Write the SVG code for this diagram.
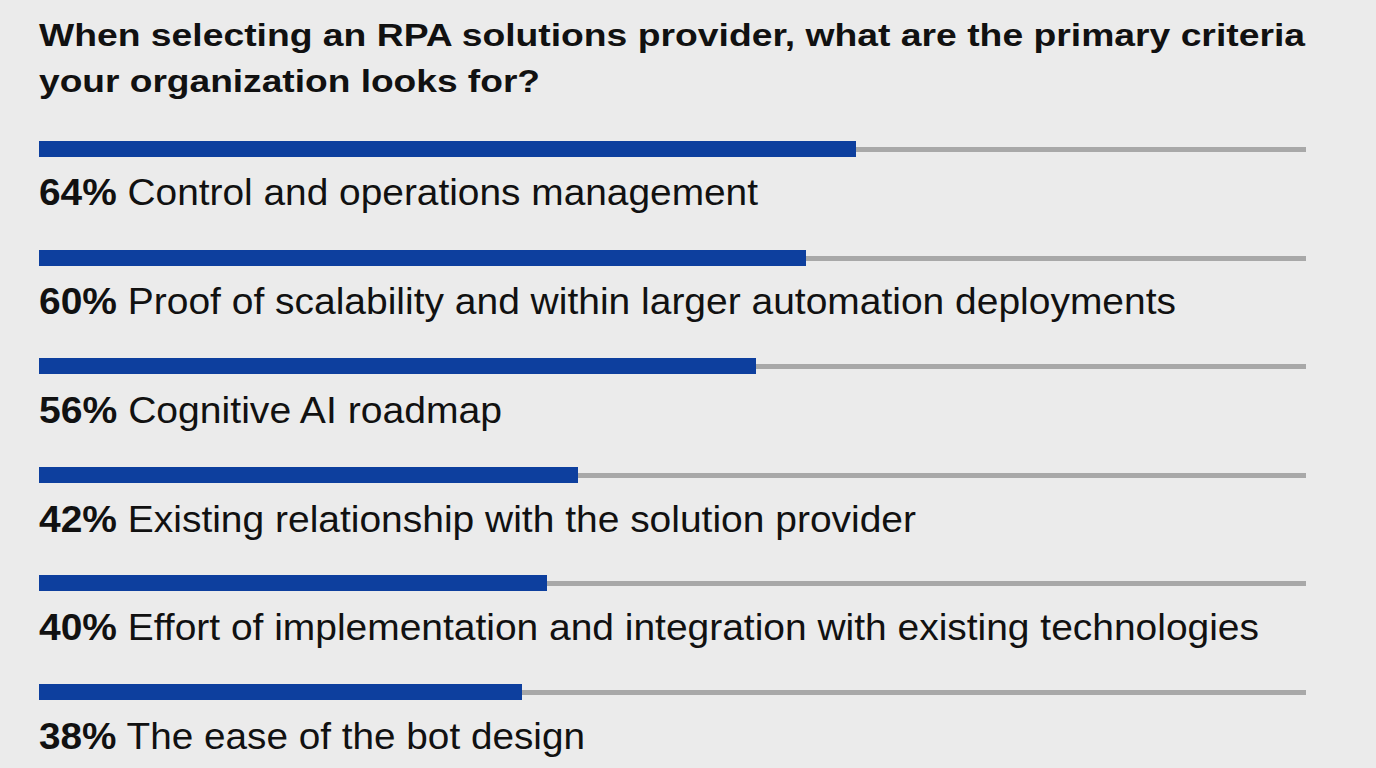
<svg xmlns="http://www.w3.org/2000/svg" width="1376" height="768" viewBox="0 0 1376 768">
<style>
.t{font-family:"Liberation Sans",Arial,sans-serif;font-weight:bold;font-size:32px;fill:#111}
.l{font-family:"Liberation Sans",Arial,sans-serif;font-size:37px;fill:#111}
.l tspan{font-weight:bold}
.g{fill:#a8a8a8}
.b{fill:#0d3f9e}
</style>
<rect width="1376" height="768" fill="#ebebeb"/>
<text class="t" x="39" y="46" textLength="1266" lengthAdjust="spacingAndGlyphs">When selecting an RPA solutions provider, what are the primary criteria</text>
<text class="t" x="39" y="92" textLength="501" lengthAdjust="spacingAndGlyphs">your organization looks for?</text>
<g id="r1"><rect class="g" x="39" y="147" width="1267" height="5"/><rect class="b" x="39" y="141" width="817" height="16"/><text class="l" x="39" y="205" textLength="719" lengthAdjust="spacingAndGlyphs"><tspan>64%</tspan> Control and operations management</text></g>
<g id="r2"><rect class="g" x="39" y="256" width="1267" height="5"/><rect class="b" x="39" y="250" width="767" height="16"/><text class="l" x="39" y="314" textLength="1137" lengthAdjust="spacingAndGlyphs"><tspan>60%</tspan> Proof of scalability and within larger automation deployments</text></g>
<g id="r3"><rect class="g" x="39" y="364" width="1267" height="5"/><rect class="b" x="39" y="358" width="717" height="16"/><text class="l" x="39" y="423" textLength="463" lengthAdjust="spacingAndGlyphs"><tspan>56%</tspan> Cognitive AI roadmap</text></g>
<g id="r4"><rect class="g" x="39" y="473" width="1267" height="5"/><rect class="b" x="39" y="467" width="539" height="16"/><text class="l" x="39" y="532" textLength="877" lengthAdjust="spacingAndGlyphs"><tspan>42%</tspan> Existing relationship with the solution provider</text></g>
<g id="r5"><rect class="g" x="39" y="581" width="1267" height="5"/><rect class="b" x="39" y="575" width="508" height="16"/><text class="l" x="39" y="640" textLength="1220" lengthAdjust="spacingAndGlyphs"><tspan>40%</tspan> Effort of implementation and integration with existing technologies</text></g>
<g id="r6"><rect class="g" x="39" y="690" width="1267" height="5"/><rect class="b" x="39" y="684" width="483" height="16"/><text class="l" x="39" y="749" textLength="546" lengthAdjust="spacingAndGlyphs"><tspan>38%</tspan> The ease of the bot design</text></g>
</svg>
